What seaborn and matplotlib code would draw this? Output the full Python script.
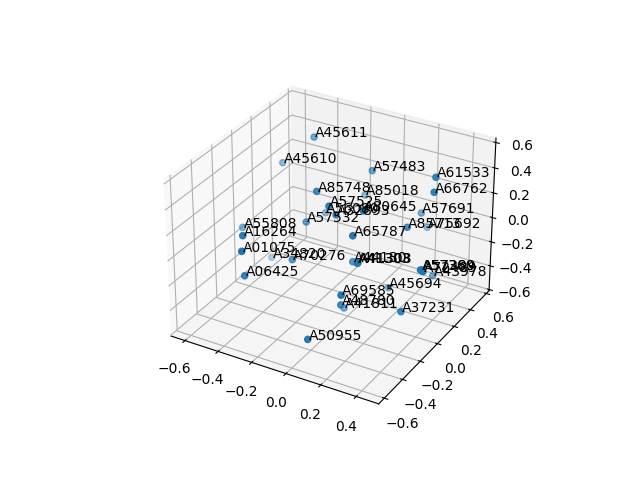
import matplotlib
matplotlib.use("Agg")
import matplotlib.pyplot as plt
import seaborn as sns

# Values
labels = ["A45611", "A45610", "A85748", "A57532", "A55808", "A16264", "A01075", "A34820", "A70276", "A06425",
          "A65787", "A57525", "A56080", "A32893", "A80645", "A57483", "A61533", "A66762", "A85018", "A57691",
          "A85713", "A75692", "A44130", "A41303", "A41308", "A57360", "A57389", "A72489", "A43978", "A45694",
          "A69585", "A48780", "A41811", "A37231", "A50955"]
x = [-0.287, -0.461, -0.093, -0.175, -0.528, -0.304, -0.264, -0.471, -0.163, -0.272, 0.186, 0.002, -0.205, -0.005,
     0.178, 0.024, 0.423, 0.434, -0.052, 0.27, 0.318, 0.244, 0.102, 0.192, 0.24, 0.514, 0.518, 0.526, 0.4,
     0.172, 0.209, 0.151, 0.05, 0.439, 0.099]
y = [0.166, 0.139, -0.161, -0.125, -0.173, -0.544, -0.624, 0.025, -0.295, -0.588, -0.299, -0.207, 0.137, -0.119,
     -0.171, 0.221, 0.141, 0.102, 0.288, 0.303, 0.042, 0.433, -0.138, -0.263, -0.348, -0.2, -0.197, -0.197,
     0.186, 0.131, -0.464, -0.358, -0.133, -0.258, -0.609]
z = [0.624, 0.375, 0.464, 0.17, 0.02, 0.278, 0.224, -0.332, -0.016, 0.006, 0.314, 0.414, 0.069, 0.288, 0.422,
     0.44, 0.583, 0.495, 0.177, 0.146, 0.215, -0.062, -0.028, 0.081, 0.155, 0.116, 0.116, 0.107, -0.234, -0.391,
     -0.03, -0.205, -0.429, -0.204, -0.326]

# 3d scatter with a label on each point
fig = plt.figure()
ax = fig.add_subplot(projection='3d')
ax.scatter(x, y, z, color=sns.color_palette()[0])
for i in range(len(labels)):
    ax.text(x[i] + 0.005, y[i], z[i], labels[i])

ax.set_xlim(-0.685, 0.525, view_margin=0)
ax.set_ylim(-0.66, 0.635, view_margin=0)
ax.set_zlim(-0.61, 0.635, view_margin=0)
fig.savefig('out.png')
